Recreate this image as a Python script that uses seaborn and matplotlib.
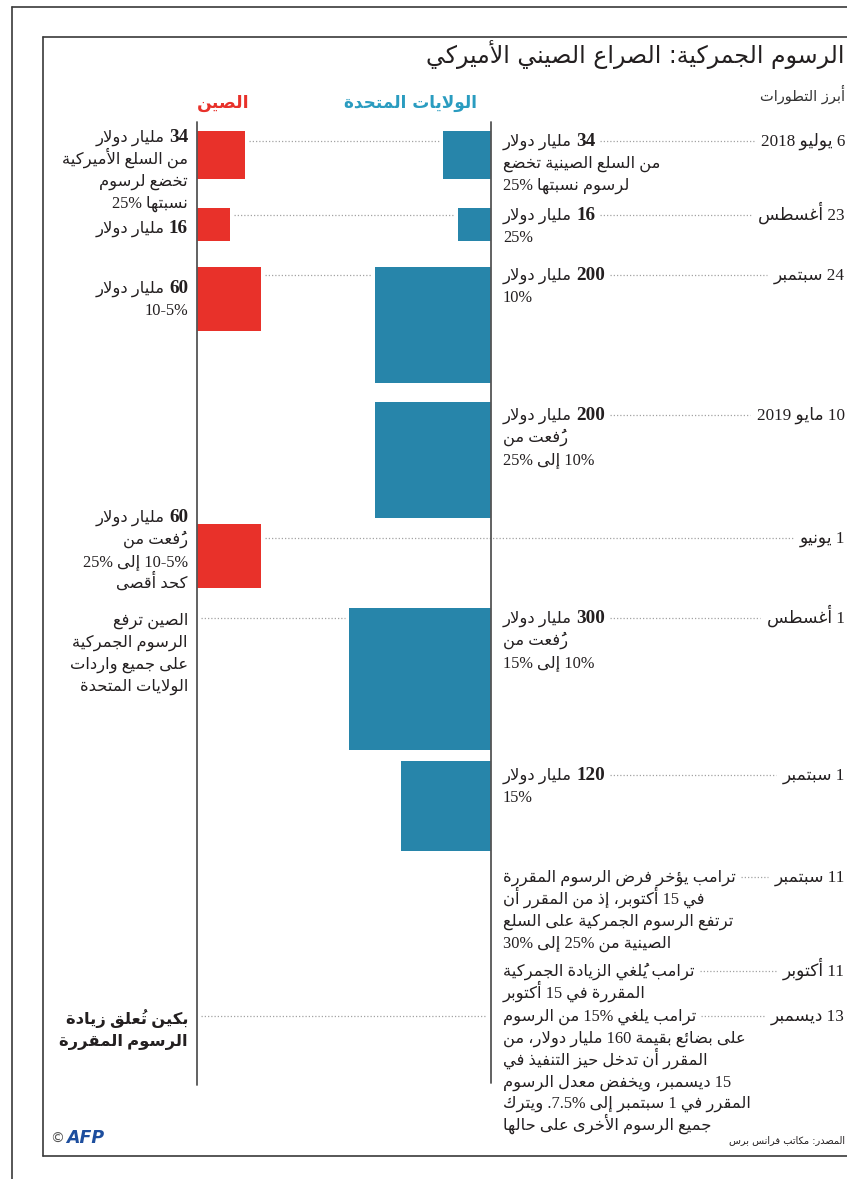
import numpy as np
import matplotlib
matplotlib.use("Agg")
import matplotlib.pyplot as plt
import seaborn as sns

# ---------------- data ----------------
title = "الرسوم الجمركية: الصراع الصيني الأميركي"
subtitle = "أبرز التطورات"
us_label = "الولايات المتحدة"
cn_label = "الصين"
unit = "مليار دولار"
dates = ["6 يوليو 2018", "23 أغسطس", "24 سبتمبر", "10 مايو 2019", "1 يونيو",
         "1 أغسطس", "1 سبتمبر", "11 سبتمبر", "11 أكتوبر", "13 ديسمبر"]
us_values = [34, 16, 200, 200, None, 300, 120, None, None, None]
cn_values = [34, 16, 60, None, 60, None, None, None, None, None]
us_notes = [
    ["من السلع الصينية تخضع", "لرسوم نسبتها 25%"],
    ["25%"],
    ["10%"],
    ["رُفعت من", "10% إلى 25%"],
    [],
    ["رُفعت من", "10% إلى 15%"],
    ["15%"],
    ["ترامب يؤخر فرض الرسوم المقررة", "في 15 أكتوبر، إذ من المقرر أن",
     "ترتفع الرسوم الجمركية على السلع", "الصينية من 25% إلى 30%"],
    ["ترامب يُلغي الزيادة الجمركية", "المقررة في 15 أكتوبر"],
    ["ترامب يلغي 15% من الرسوم", "على بضائع بقيمة 160 مليار دولار، من",
     "المقرر أن تدخل حيز التنفيذ في", "15 ديسمبر، ويخفض معدل الرسوم",
     "المقرر في 1 سبتمبر إلى 7.5%. ويترك", "جميع الرسوم الأخرى على حالها"],
]
cn_notes = [
    ["من السلع الأميركية", "تخضع لرسوم", "نسبتها 25%"],
    [],
    ["10-5%"],
    [],
    ["رُفعت من", "10-5% إلى 25%", "كحد أقصى"],
    ["الصين ترفع", "الرسوم الجمركية", "على جميع واردات", "الولايات المتحدة"],
    [], [], [],
    ["بكين تُعلق زيادة", "الرسوم المقررة"],
]
cn_notes_bold = [False, False, False, False, False, False, False, False, False, True]
source = "المصدر: مكاتب فرانس برس"
credit = "AFP"

# ---------------- layout (pixels) ----------------
ROW_Y = [141, 215, 275, 415, 538, 618, 775, 877, 971, 1016]
BAR_TOP = [131, 208, 267, 402, 524, 608, 761, None, None, None]
CN_TEXT_Y = [137, 228, 288, None, 517, 620, None, None, None, 1019]
US_AXIS, CN_AXIS = 491, 197
US_TEXT_X, CN_TEXT_X, DATE_X = 503, 188, 845
K = 8.2          # px per sqrt(billion $): squares with area ~ value
LINE = 21.8
BASE = 5         # baseline offset below the row's centre line
FS = 11.8
FAM = ['Liberation Serif', 'DejaVu Sans']
US_COLOR, CN_COLOR = "#2785aa", "#e8312a"
US_HEAD, TXT, DOT = "#2a9cc0", "#231f20", "#a3a3a3"

# ---------------- minimal Arabic shaping + RTL ordering ----------------
_DUAL = {'ئ': 0xFE89, 'ب': 0xFE8F, 'ت': 0xFE95, 'ث': 0xFE99, 'ج': 0xFE9D, 'ح': 0xFEA1,
         'خ': 0xFEA5, 'س': 0xFEB1, 'ش': 0xFEB5, 'ص': 0xFEB9, 'ض': 0xFEBD, 'ط': 0xFEC1,
         'ظ': 0xFEC5, 'ع': 0xFEC9, 'غ': 0xFECD, 'ف': 0xFED1, 'ق': 0xFED5, 'ك': 0xFED9,
         'ل': 0xFEDD, 'م': 0xFEE1, 'ن': 0xFEE5, 'ه': 0xFEE9, 'ي': 0xFEF1}
_RIGHT = {'آ': 0xFE81, 'أ': 0xFE83, 'ؤ': 0xFE85, 'إ': 0xFE87, 'ا': 0xFE8D, 'ة': 0xFE93,
          'د': 0xFEA9, 'ذ': 0xFEAB, 'ر': 0xFEAD, 'ز': 0xFEAF, 'و': 0xFEED, 'ى': 0xFEEF}
_LAMALEF = {'آ': 0xFEF5, 'أ': 0xFEF7, 'إ': 0xFEF9, 'ا': 0xFEFB}
_MARKS = set('\u064B\u064C\u064D\u064E\u064F\u0650\u0651\u0652')


def _shape_word(w):
    cl = []
    for ch in w:
        if ch in _MARKS and cl:
            cl[-1][1] += ch
        else:
            cl.append([ch, ''])
    merged, i = [], 0
    while i < len(cl):
        b, m = cl[i]
        if b == 'ل' and i + 1 < len(cl) and cl[i + 1][0] in _LAMALEF:
            merged.append([('LA', cl[i + 1][0]), m + cl[i + 1][1]])
            i += 2
        else:
            merged.append([b, m])
            i += 1

    def joinable(b):
        return isinstance(b, tuple) or b in _DUAL or b in _RIGHT

    def dual(b):
        return (not isinstance(b, tuple)) and b in _DUAL

    out = []
    for i, (b, m) in enumerate(merged):
        prev = merged[i - 1][0] if i > 0 else None
        nxt = merged[i + 1][0] if i + 1 < len(merged) else None
        jp = prev is not None and dual(prev) and joinable(b)
        jn = nxt is not None and dual(b) and joinable(nxt)
        if isinstance(b, tuple):
            c = chr(_LAMALEF[b[1]] + (1 if jp else 0))
        elif b in _DUAL:
            c = chr(_DUAL[b] + (3 if (jp and jn) else 1 if jp else 2 if jn else 0))
        elif b in _RIGHT:
            c = chr(_RIGHT[b] + (1 if jp else 0))
        else:
            c = b
        out.append(m + c)   # mark first so it sits over its base letter
    return ''.join(reversed(out))


def rtl(line):
    vis = []
    for t in line.split(' '):
        if any('\u0600' <= c <= '\u06FF' for c in t):
            vis.append(_shape_word(t))
        else:
            tr = ''
            while t and t[-1] in '.,:':
                tr = t[-1] + tr
                t = t[:-1]
            vis.append(tr + t)
    return ' '.join(reversed(vis))


# ---------------- figure ----------------
sns.set_theme(style="white")
plt.rcParams['font.family'] = ['DejaVu Sans']
fig = plt.figure(figsize=(8.47, 11.79), dpi=100)
ax = fig.add_axes([0, 0, 1, 1])
ax.set_xlim(0, 847)
ax.set_ylim(1179, 0)
ax.axis('off')
renderer = fig.canvas.get_renderer()
inv = ax.transData.inverted()


def x_extent(artist):
    bb = artist.get_window_extent(renderer)
    return inv.transform((bb.x0, bb.y0))[0], inv.transform((bb.x1, bb.y0))[0]


def dotted(x0, x1, y):
    ax.plot([x0, x1], [y, y], ls=(0, (1, 1.6)), color=DOT, lw=0.9, zorder=1)


def txt(x, y, s, ha='left', size=FS, weight='normal', color=TXT, family=FAM, style='normal'):
    return ax.text(x, y + BASE, s, ha=ha, va='baseline', fontsize=size,
                   fontweight=weight, color=color, family=family, fontstyle=style)


# frames
fc = "#3a3a3a"
ax.plot([12, 12], [7, 1179], color=fc, lw=1.2, clip_on=False)
ax.plot([12, 847], [7, 7], color=fc, lw=1.2, clip_on=False)
ax.plot([43, 43], [37, 1156], color=fc, lw=1.2)
ax.plot([43, 847], [37, 37], color=fc, lw=1.2)
ax.plot([43, 847], [1156, 1156], color=fc, lw=1.2)

# titles
txt(845, 58, rtl(title), ha='right', size=17, family=['DejaVu Sans'])
txt(845, 96, rtl(subtitle), ha='right', size=10.5, color='#333333', family=['DejaVu Sans'])
txt(477, 103, rtl(us_label), ha='right', size=12.2, weight='bold', color=US_HEAD,
    family=['DejaVu Sans'])
txt(249, 103, rtl(cn_label), ha='right', size=12.5, weight='bold', color=CN_COLOR,
    family=['DejaVu Sans'])

# axes lines
ax.plot([CN_AXIS, CN_AXIS], [122, 1085], color='#555555', lw=1.3, zorder=4)
ax.plot([US_AXIS, US_AXIS], [122, 1083], color='#555555', lw=1.3, zorder=4)

for i, d in enumerate(dates):
    y = ROW_Y[i]
    t_date = txt(DATE_X, y, rtl(d), ha='right', size=FS + 0.5)
    date_left = x_extent(t_date)[0] - 7

    # --- US side ---
    us_v = us_values[i]
    us_side = K * np.sqrt(us_v) if us_v else 0
    if us_v:
        ax.barh(BAR_TOP[i] + us_side / 2, us_side, height=us_side, left=US_AXIS - us_side,
                color=US_COLOR, linewidth=0, zorder=2)
    first = None
    ly = y
    if us_v:
        t_unit = txt(US_TEXT_X, ly, rtl(unit))
        first = ax.annotate(str(us_v), xy=(1, ly + BASE), xycoords=(t_unit, 'data'),
                            xytext=(3, 0), textcoords='offset points', ha='left',
                            va='baseline', fontsize=FS + 2, fontweight='bold',
                            color=TXT, family=FAM)
        ly += LINE
    for ln in us_notes[i]:
        t = txt(US_TEXT_X, ly, rtl(ln))
        if first is None:
            first = t
        ly += LINE
    if first is not None:
        dotted(x_extent(first)[1] + 5, date_left, y)

    # --- China side ---
    cn_v = cn_values[i]
    if cn_v or cn_notes[i]:
        cn_side = K * np.sqrt(cn_v) if cn_v else 0
        if cn_v:
            ax.barh(BAR_TOP[i] + cn_side / 2, cn_side, height=cn_side, left=CN_AXIS,
                    color=CN_COLOR, linewidth=0, zorder=2)
        cy = CN_TEXT_Y[i]
        w = 'bold' if cn_notes_bold[i] else 'normal'
        if cn_v:
            t_num = txt(CN_TEXT_X, cy, str(cn_v), ha='right', size=FS + 2, weight='bold')
            ax.annotate(rtl(unit), xy=(0, cy + BASE), xycoords=(t_num, 'data'),
                        xytext=(-3, 0), textcoords='offset points', ha='right',
                        va='baseline', fontsize=FS, color=TXT, family=FAM)
            cy += LINE
        for ln in cn_notes[i]:
            txt(CN_TEXT_X, cy, rtl(ln), ha='right', weight=w)
            cy += LINE
        x0 = CN_AXIS + cn_side + 4
        if us_v:
            x1 = US_AXIS - us_side - 4
        elif first is not None:
            x1 = US_AXIS - 4
        else:
            x1 = date_left
        dotted(x0, x1, y)

# footer
txt(50, 1138, "©", size=10, color='#555555', family=['DejaVu Sans'])
txt(66, 1138, credit, size=12.5, weight='bold', color='#1d4e9e', family=['DejaVu Sans'],
    style='italic')
txt(845, 1138, rtl(source), ha='right', size=7, family=['DejaVu Sans'])

fig.savefig("out.png", dpi=100)
